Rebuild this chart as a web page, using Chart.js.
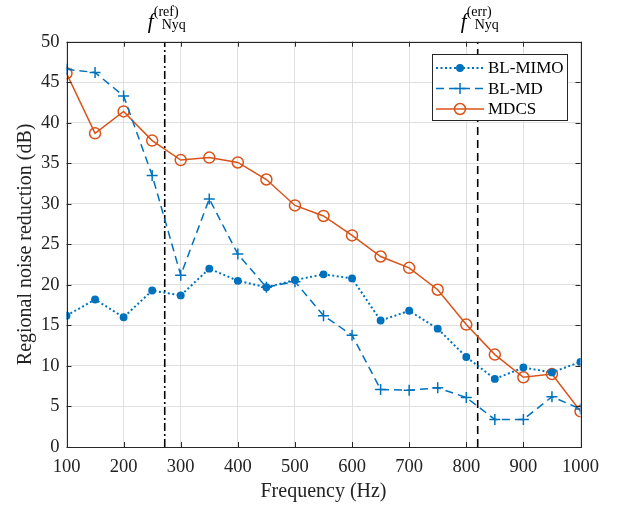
<!DOCTYPE html>
<html>
<head>
<meta charset="utf-8">
<script src="https://cdn.jsdelivr.net/npm/chart.js@4/dist/chart.umd.min.js"></script>
<style>
  html, body { margin: 0; padding: 0; background: #fff; }
  #wrap { width: 621px; height: 508px; }
</style>
</head>
<body>
<div id="wrap"><canvas id="chartNoise" width="621" height="508"></canvas></div>
<script>
const freqs = [100, 150, 200, 250, 300, 350, 400, 450, 500, 550, 600, 650, 700, 750, 800, 850, 900, 950, 1000];

const blMimo = [16.2, 18.2, 16.0, 19.3, 18.7, 22.0, 20.5, 19.7, 20.6, 21.3, 20.8, 15.6, 16.8, 14.6, 11.1, 8.4, 9.8, 9.2, 10.5];
const blMd   = [46.6, 46.2, 43.3, 33.5, 21.2, 30.6, 23.8, 19.7, 20.4, 16.2, 13.8, 7.1, 7.0, 7.3, 6.1, 3.4, 3.4, 6.2, 4.7];
const mdcs   = [46.1, 38.7, 41.4, 37.8, 35.4, 35.7, 35.1, 33.0, 29.8, 28.5, 26.1, 23.5, 22.1, 19.4, 15.1, 11.4, 8.6, 9.0, 4.4];

const nyqRef = 272;
const nyqErr = 820;

const xTicks = [100, 200, 300, 400, 500, 600, 700, 800, 900, 1000];
const yTicks = [0, 5, 10, 15, 20, 25, 30, 35, 40, 45, 50];

const BLUE = '#0072BD';
const ORANGE = '#D95319';
const AXIS = '#262626';
const SERIF = '"Liberation Serif", "Times New Roman", serif';

const toPoints = vals => vals.map((v, i) => ({ x: freqs[i], y: v }));

const series = [
    { label: 'BL-MIMO', data: blMimo, color: BLUE, dash: [2, 2.5], width: 2,
      style: 'circle', radius: 3.2, fill: BLUE },
    { label: 'BL-MD', data: blMd, color: BLUE, dash: [8, 5], width: 1.5,
      style: 'cross', radius: 5.5, fill: BLUE },
    { label: 'MDCS', data: mdcs, color: ORANGE, dash: [], width: 1.5,
      style: 'circle', radius: 5.5, fill: 'rgba(0,0,0,0)' },
];

const datasets = series.map(s => ({
    label: s.label,
    data: toPoints(s.data),
    borderColor: s.color,
    borderWidth: s.width,
    borderDash: s.dash,
    pointStyle: s.style,
    pointRadius: s.radius,
    pointBorderWidth: 1.5,
    pointBorderColor: s.color,
    pointBackgroundColor: s.fill,
    tension: 0,
}));

// vertical Nyquist markers
datasets.push({
    label: 'nyq-ref',
    data: [{ x: nyqRef, y: 0 }, { x: nyqRef, y: 50 }],
    borderColor: '#000', borderWidth: 1.6, borderDash: [8, 3, 2, 3],
    pointRadius: 0,
});
datasets.push({
    label: 'nyq-err',
    data: [{ x: nyqErr, y: 0 }, { x: nyqErr, y: 50 }],
    borderColor: '#000', borderWidth: 1.6, borderDash: [8, 5],
    pointRadius: 0,
});

function drawMarker(ctx, s, x, y) {
    ctx.save();
    ctx.setLineDash([]);
    ctx.strokeStyle = s.color;
    ctx.lineWidth = 1.5;
    if (s.style === 'cross') {
        ctx.beginPath();
        ctx.moveTo(x - s.radius, y); ctx.lineTo(x + s.radius, y);
        ctx.moveTo(x, y - s.radius); ctx.lineTo(x, y + s.radius);
        ctx.stroke();
    } else {
        ctx.beginPath();
        ctx.arc(x, y, s.radius, 0, Math.PI * 2);
        ctx.fillStyle = s.fill;
        ctx.fill();
        ctx.stroke();
    }
    ctx.restore();
}

function drawNyqLabel(ctx, xc, sup) {
    ctx.save();
    ctx.fillStyle = '#000';
    ctx.textBaseline = 'alphabetic';
    ctx.font = 'italic 21px ' + SERIF;
    ctx.fillText('f', xc - 17, 28);
    ctx.font = '14px ' + SERIF;
    ctx.fillText('Nyq', xc - 3, 29);
    ctx.font = '14px ' + SERIF;
    ctx.fillText('(' + sup + ')', xc - 11, 16);
    ctx.restore();
}

const framePlugin = {
    id: 'frame',
    afterDraw(chart) {
        const { ctx, chartArea: a, scales: { x, y } } = chart;
        const tick = 5;
        ctx.save();
        ctx.strokeStyle = AXIS;
        ctx.lineWidth = 1;
        ctx.setLineDash([]);
        ctx.beginPath();
        xTicks.forEach(v => {
            const px = Math.round(x.getPixelForValue(v)) + 0.5;
            ctx.moveTo(px, a.bottom); ctx.lineTo(px, a.bottom - tick);
            ctx.moveTo(px, a.top); ctx.lineTo(px, a.top + tick);
        });
        yTicks.forEach(v => {
            const py = Math.round(y.getPixelForValue(v)) + 0.5;
            ctx.moveTo(a.left, py); ctx.lineTo(a.left + tick, py);
            ctx.moveTo(a.right, py); ctx.lineTo(a.right - tick, py);
        });
        ctx.stroke();
        ctx.strokeRect(Math.round(a.left) + 0.5, Math.round(a.top) + 0.5,
                       Math.round(a.right - a.left), Math.round(a.bottom - a.top));

        // legend box
        const lx = 432, ly = 54, lw = 135, lh = 66;
        ctx.fillStyle = '#fff';
        ctx.fillRect(lx, ly, lw, lh);
        ctx.strokeStyle = AXIS;
        ctx.strokeRect(lx + 0.5, ly + 0.5, lw, lh);
        ctx.font = '17px ' + SERIF;
        ctx.textBaseline = 'middle';
        series.forEach((s, i) => {
            const ry = 68 + i * 20.5;
            ctx.save();
            ctx.strokeStyle = s.color;
            ctx.lineWidth = s.width;
            ctx.setLineDash(s.dash);
            ctx.beginPath();
            ctx.moveTo(436, ry); ctx.lineTo(484, ry);
            ctx.stroke();
            ctx.restore();
            drawMarker(ctx, s, 460, ry);
            ctx.fillStyle = '#000';
            ctx.fillText(s.label, 488, ry + 1);
        });

        drawNyqLabel(ctx, x.getPixelForValue(nyqRef), 'ref');
        drawNyqLabel(ctx, x.getPixelForValue(nyqErr), 'err');
        ctx.restore();
    }
};

new Chart(document.getElementById('chartNoise').getContext('2d'), {
    type: 'line',
    data: { datasets },
    options: {
        responsive: false,
        animation: false,
        layout: { padding: { left: 0, right: 40.5, top: 41.7, bottom: 0 } },
        plugins: { legend: { display: false }, tooltip: { enabled: false } },
        scales: {
            x: {
                type: 'linear', min: 100, max: 1000,
                afterFit: s => { s.height = 61; },
                afterBuildTicks: s => { s.ticks = xTicks.map(v => ({ value: v })); },
                grid: { color: '#dfdfdf', drawTicks: false },
                border: { display: false },
                ticks: { color: '#222', padding: 9, maxRotation: 0,
                         callback: v => String(v),
                         font: { family: SERIF, size: 18.5 } },
                title: { display: true, text: 'Frequency (Hz)', color: '#222',
                         padding: { top: 2 }, font: { family: SERIF, size: 20 } },
            },
            y: {
                min: 0, max: 50,
                afterFit: s => { s.width = 66.5; },
                afterBuildTicks: s => { s.ticks = yTicks.map(v => ({ value: v })); },
                grid: { color: '#dfdfdf', drawTicks: false },
                border: { display: false },
                ticks: { color: '#222', padding: 7,
                         callback: v => String(v),
                         font: { family: SERIF, size: 18.5 } },
                title: { display: true, text: 'Regional noise reduction (dB)', color: '#222',
                         padding: { top: 14, bottom: 0 }, font: { family: SERIF, size: 20 } },
            },
        },
    },
    plugins: [framePlugin],
});
</script>
</body>
</html>
